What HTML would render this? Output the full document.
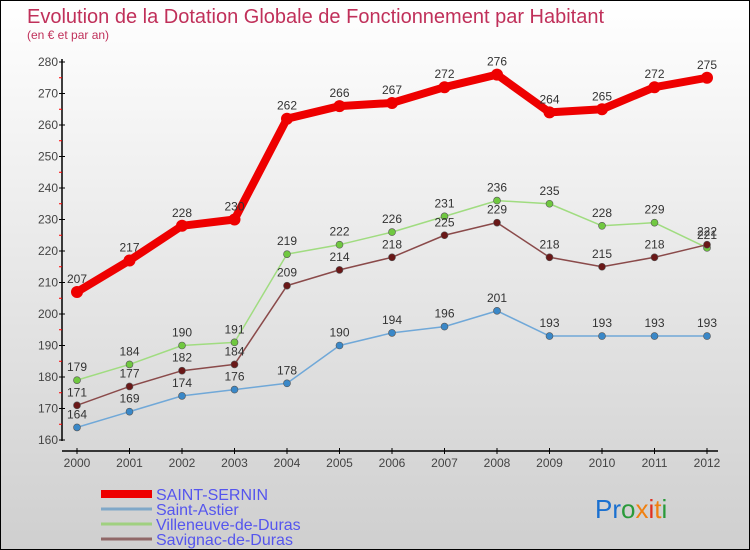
<!DOCTYPE html>
<html><head><meta charset="utf-8"><style>
body{margin:0}
#c{width:748px;height:548px;border:1px solid #000;background:linear-gradient(#ffffff,#cfcfcf);position:relative;overflow:hidden;font-family:"Liberation Sans",sans-serif}
svg{position:absolute;left:0;top:0}
text{font-family:"Liberation Sans",sans-serif}
</style></head><body>
<div id="c">
<svg id="s" width="750" height="550">
<text x="26" y="22" font-size="20" fill="#c0305a">Evolution de la Dotation Globale de Fonctionnement par Habitant</text>
<text x="26" y="38" font-size="12" fill="#c0305a">(en € et par an)</text>
<text x="594" y="517" font-size="26" font-family="Liberation Sans"><tspan fill="#1a70d0">Pr</tspan><tspan fill="#2a9a3a">o</tspan><tspan fill="#f08010">x</tspan><tspan fill="#e03020">i</tspan><tspan fill="#f08010">t</tspan><tspan fill="#2a9a3a">i</tspan></text>
</svg>
</div>
<script>
const years=[2000,2001,2002,2003,2004,2005,2006,2007,2008,2009,2010,2011,2012];
const yTicks=[160,170,180,190,200,210,220,230,240,250,260,270,280];
const sernin=[207,217,228,230,262,266,267,272,276,264,265,272,275];
const astier=[164,169,174,176,178,190,194,196,201,193,193,193,193];
const villeneuve=[179,184,190,191,219,222,226,231,236,235,228,229,221];
const savignac=[171,177,182,184,209,214,218,225,229,218,215,218,222];
const NS="http://www.w3.org/2000/svg";
const svg=document.getElementById('s');
const X=i=>76+i*52.5;
const Y=v=>439-(v-160)*(378/120);
function mk(t,a,p){const e=document.createElementNS(NS,t);for(const k in a)e.setAttribute(k,a[k]);(p||svg).appendChild(e);return e;}
let ax=mk('line',{x1:61,y1:58,x2:61,y2:440,stroke:'#000','stroke-width':1.5});


yTicks.forEach(v=>{mk('line',{x1:58,x2:64,y1:Y(v),y2:Y(v),stroke:'#000'});
 if(v<280)mk('line',{x1:58,x2:61,y1:Y(v+5),y2:Y(v+5),stroke:'#f00'});
 const t=mk('text',{x:57,y:Y(v)+4,'font-size':12,fill:'#444','text-anchor':'end'});t.textContent=v;
 
 });
let xa=mk('line',{x1:61,y1:450,x2:717,y2:450,stroke:'#000','stroke-width':1.5});


years.forEach((y,i)=>{mk('line',{x1:X(i),x2:X(i),y1:447,y2:453,stroke:'#000'});
 const t=mk('text',{x:X(i),y:466,'font-size':12,fill:'#444','text-anchor':'middle'});t.textContent=y;
 
 });
function series(d,col,w,r,fill,name){
 const p=mk('polyline',{points:d.map((v,i)=>X(i)+','+Y(v)).join(' '),fill:'none',stroke:col,'stroke-width':w,'stroke-linejoin':'round'});
 
 
 d.forEach((v,i)=>{const c=mk('circle',{cx:X(i),cy:Y(v),r:r,fill:fill,stroke:fill==col?'none':'#555','stroke-width':0.6});
  
  
  const t=mk('text',{x:X(i),y:Y(v)-9,'font-size':12,fill:'#333','text-anchor':'middle'});t.textContent=v;
  
  });
}
series(astier,'#70a8d8',1.5,3.5,'#3a88c8','saint-astier');
series(villeneuve,'#a0dc80',1.5,3.5,'#70c840','villeneuve');
series(savignac,'#8a4a4a',1.5,3.5,'#6a1818','savignac');
series(sernin,'#ee0000',8,6,'#ee0000','saint-sernin');
const leg=[['SAINT-SERNIN','#ee0000',8],['Saint-Astier','#80a8c8',3],['Villeneuve-de-Duras','#a0d080',3],['Savignac-de-Duras','#906868',3]];
leg.forEach((l,i)=>{const y=493+i*15;
 mk('line',{x1:100,x2:151,y1:y,y2:y,stroke:l[1],'stroke-width':l[2]});
 const t=mk('text',{x:155,y:y+6,'font-size':16,fill:'#5555ee'});t.textContent=l[0];
 
 });
</script>
</body></html>
